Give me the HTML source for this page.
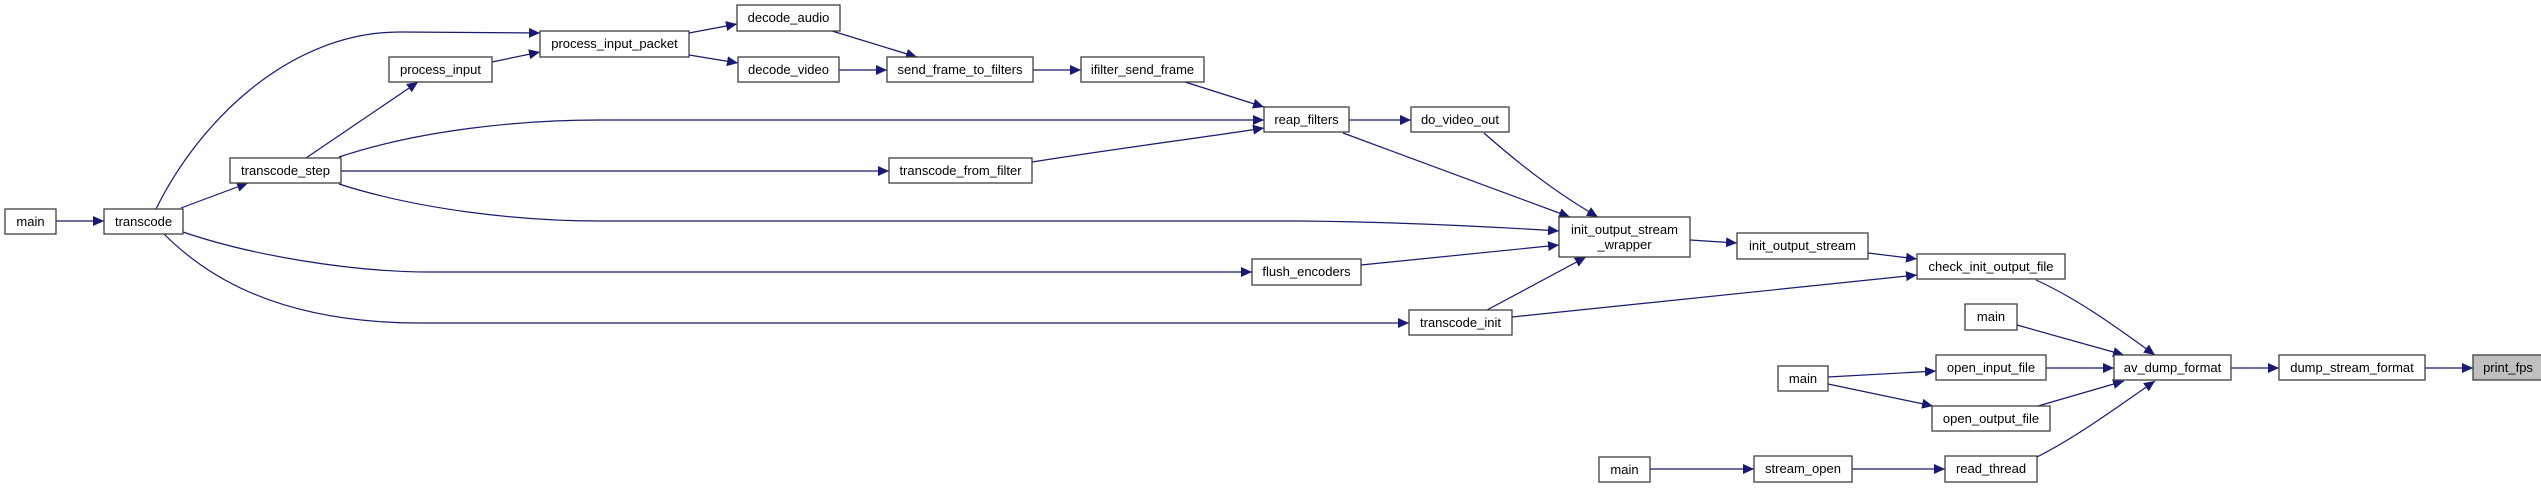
<!DOCTYPE html>
<html><head><meta charset="utf-8"><style>
html,body{margin:0;padding:0;background:#fdfefd;}
svg{display:block;}
text{font-family:"Liberation Sans",sans-serif;font-size:13px;fill:#000;}
</style></head><body>
<svg width="2541" height="488" viewBox="0 0 2541 488" xmlns="http://www.w3.org/2000/svg">
<defs>
<marker id="a" markerUnits="userSpaceOnUse" markerWidth="12" markerHeight="10" refX="11" refY="5" orient="auto">
<path d="M0,0 L11,5 L0,10 Z" fill="#191970"/>
</marker>
</defs>
<g fill="none" stroke="#191970" stroke-width="1.2" marker-end="url(#a)">
<path d="M56,221 L104,221"/>
<path d="M156,209 C200,120 290,32 400,32 L540,33"/>
<path d="M181,208 L248,183"/>
<path d="M306,158 L418,82"/>
<path d="M492,62 L540,52"/>
<path d="M689,33 L737,24"/>
<path d="M689,55 L738,63"/>
<path d="M832,31 L917,57"/>
<path d="M839,70 L887,70"/>
<path d="M1033,70 L1081,70"/>
<path d="M1185,82 L1264,107"/>
<path d="M339,157 C420,130 520,120 600,120 L1264,120"/>
<path d="M341,171 L889,171"/>
<path d="M1032,162 C1120,148 1200,138 1264,128"/>
<path d="M1349,120 L1411,120"/>
<path d="M1343,133 L1570,217"/>
<path d="M1484,133 C1520,165 1560,195 1598,217"/>
<path d="M339,184 C420,210 520,221 600,221 L1300,221 C1400,222 1480,226 1559,231"/>
<path d="M1361,265 L1559,245"/>
<path d="M183,232 C250,255 350,272 430,272 L1252,272"/>
<path d="M164,234 C200,270 270,323 420,323 L1409,323"/>
<path d="M1487,310 L1586,257"/>
<path d="M1690,240 L1737,243"/>
<path d="M1868,253 L1917,259"/>
<path d="M1512,317 L1917,275"/>
<path d="M2036,280 C2080,300 2120,330 2155,355"/>
<path d="M2017,325 L2124,355"/>
<path d="M2046,368 L2114,368"/>
<path d="M2038,406 L2124,381"/>
<path d="M2037,457 C2080,435 2120,405 2155,381"/>
<path d="M2231,368 L2279,368"/>
<path d="M2425,368 L2473,368"/>
<path d="M1828,377 L1936,371"/>
<path d="M1828,384 L1933,406"/>
<path d="M1650,469 L1754,469"/>
<path d="M1852,469 L1945,469"/>
</g>
<g fill="#fff" stroke="#404040" stroke-width="1.3">
<rect x="5" y="209" width="51" height="25"/>
<rect x="104" y="209" width="79" height="25"/>
<rect x="230" y="158" width="111" height="25"/>
<rect x="389" y="57" width="103" height="25"/>
<rect x="540" y="31" width="149" height="26"/>
<rect x="737" y="5" width="103" height="26"/>
<rect x="738" y="57" width="101" height="25"/>
<rect x="887" y="57" width="146" height="25"/>
<rect x="1081" y="57" width="123" height="25"/>
<rect x="1264" y="107" width="85" height="25"/>
<rect x="1411" y="107" width="98" height="25"/>
<rect x="889" y="158" width="143" height="25"/>
<rect x="1559" y="217" width="131" height="40"/>
<rect x="1252" y="259" width="109" height="26"/>
<rect x="1409" y="310" width="103" height="25"/>
<rect x="1599" y="457" width="51" height="25"/>
<rect x="1737" y="233" width="131" height="26"/>
<rect x="1917" y="254" width="148" height="25"/>
<rect x="1965" y="304" width="52" height="26"/>
<rect x="1936" y="355" width="110" height="25"/>
<rect x="1778" y="366" width="50" height="25"/>
<rect x="1932" y="406" width="118" height="25"/>
<rect x="1754" y="456" width="98" height="26"/>
<rect x="1945" y="456" width="92" height="26"/>
<rect x="2114" y="355" width="117" height="25"/>
<rect x="2279" y="355" width="146" height="25"/>
<rect x="2473" y="355" width="72" height="25" fill="#bfbfbf"/>
</g>
<g text-anchor="middle">
<text x="30.5" y="226">main</text>
<text x="143.5" y="226">transcode</text>
<text x="285.5" y="175">transcode_step</text>
<text x="440.5" y="74">process_input</text>
<text x="614.5" y="48">process_input_packet</text>
<text x="788.5" y="22">decode_audio</text>
<text x="788.5" y="74">decode_video</text>
<text x="960" y="74">send_frame_to_filters</text>
<text x="1142.5" y="74">ifilter_send_frame</text>
<text x="1306.5" y="124">reap_filters</text>
<text x="1460" y="124">do_video_out</text>
<text x="960.5" y="175">transcode_from_filter</text>
<text x="1624.5" y="234">init_output_stream</text>
<text x="1624.5" y="249">_wrapper</text>
<text x="1306.5" y="276">flush_encoders</text>
<text x="1460.5" y="327">transcode_init</text>
<text x="1624.5" y="474">main</text>
<text x="1802.5" y="250">init_output_stream</text>
<text x="1991" y="271">check_init_output_file</text>
<text x="1991" y="321">main</text>
<text x="1991" y="372">open_input_file</text>
<text x="1803" y="383">main</text>
<text x="1991" y="423">open_output_file</text>
<text x="1803" y="473">stream_open</text>
<text x="1991" y="473">read_thread</text>
<text x="2172.5" y="372">av_dump_format</text>
<text x="2352" y="372">dump_stream_format</text>
<text x="2508" y="372">print_fps</text>
</g>
</svg>
</body></html>
